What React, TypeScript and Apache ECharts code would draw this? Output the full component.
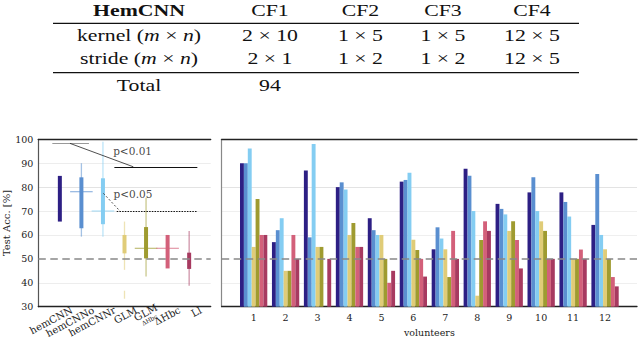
import React, { useEffect, useRef } from 'react';
import * as echarts from 'echarts';

// ---------- table ----------
const tableHeader = ['HemCNN', 'CF1', 'CF2', 'CF3', 'CF4'];
const tableKernel = ['kernel ({i|m} × {i|n})', '2 × 10', '1 × 5', '1 × 5', '12 × 5'];
const tableStride = ['stride ({i|m} × {i|n})', '2 × 1', '1 × 2', '1 × 2', '12 × 5'];
const tableTotal = ['Total', '94'];

// ---------- left chart: per method summaries ----------
const methods = ['hemCNN', 'hemCNNo', 'hemCNNr', 'GLM', 'GLM_sub', 'ΔHbc', 'LI'];
const glmSub = 'ΔHbc';
const whiskerLow = [65.6, 59.3, 59.3, 45.4, 42.6, 46, 38.8];
const whiskerHigh = [84.7, 90, 99, 65.6, 75.6, 60, 61.7];
const boxLow = [65.6, 62.8, 64.5, 52.3, 50.2, 46, 45.8];
const boxHigh = [84.7, 84.1, 83.7, 60, 63.3, 60, 52.6];
const crossValue: (number | null)[] = [null, 78.1, 70, null, 54.4, 54.4, null];
const outlierValue: (number | null)[] = [null, null, null, 35, null, null, null];

// significance annotations (x in method slots, y in %)
const sigLines = [
  { from: [0.65, 98.3], to: [2.35, 98.3], kind: 'gray' },
  { from: [1.47, 98.3], to: [4.41, 88.5], kind: 'thin' },
  { from: [3.53, 88.5], to: [7.38, 88.5], kind: 'solid' },
  { from: [3.02, 77.4], to: [3.79, 70.0], kind: 'dash' },
  { from: [3.64, 70.0], to: [7.35, 70.0], kind: 'dot' },
];
const sigLabels = [
  { text: 'p<0.01', at: [3.45, 95.3] },
  { text: 'p<0.05', at: [3.47, 77.1] },
];

// ---------- right chart: per volunteer accuracy ----------
const volunteers = ['1', '2', '3', '4', '5', '6', '7', '8', '9', '10', '11', '12'];
const accHemCNN = [90, 57, 87, 80, 67, 82.3, 54, 87.7, 73, 77.8, 77.8, 64.2];
const accHemCNNo = [90, 62, 59, 82, 62, 83, 63.2, 84.8, 70.9, 84.1, 73.8, 85.5];
const accHemCNNr = [96.2, 67, 98, 79, 60, 86, 58.5, 70, 68.6, 70, 67.7, 60];
const accGLM = [55, 45, 55, 60, 60, 58, 54, 34.6, 61.7, 65.7, 50, 54];
const accGLMsub = [75, 45, 55, 65, 50, 53.7, 42.4, 57.9, 65.7, 61.7, 50, 50];
const accDHbc = [60, 60, null, 55, 40, 50, 61.7, 65.7, 57.9, 50, 53.9, 42.4];
const accLI = [60, 50, 50, 55, 45, 42.6, 50, 61.7, 46, 50, 50, 38.5];

const chanceLevel = 50;
const yMin = 30;
const yMax = 100;
const yStep = 10;

const methodColors = ['#2d1f84', '#5a8fd0', '#84cdf2', '#e0cc78', '#9f9b30', '#d3607a', '#a73a60'];

const SERIF = 'DejaVu Serif';
const TIMES = 'Liberation Serif';

function fade(hex: string, a: number) {
  const n = parseInt(hex.slice(1), 16);
  return `rgba(${(n >> 16) & 255},${(n >> 8) & 255},${n & 255},${a})`;
}

export default function App() {
  const ref = useRef<HTMLDivElement>(null);
  useEffect(() => {
    if (!ref.current) return;
    const chart = echarts.init(ref.current, undefined, { renderer: 'svg' });

    // table graphics
    const colX = [139, 270, 360.5, 443, 532];
    const rowY = [10, 35, 58.5, 85];
    const rows = [tableHeader, tableKernel, tableStride, tableTotal];
    const tableEls: any[] = [];
    rows.forEach((row, r) => {
      row.forEach((t, c) => {
        const bold = r === 0 && c === 0;
        const style: any = {
          text: t,
          align: 'center',
          verticalAlign: 'middle',
          fontFamily: TIMES,
          fontSize: 16.5,
          fontWeight: bold ? 'bold' : 'normal',
          fill: '#111',
        };
        if (t.indexOf('{i|') >= 0) {
          style.rich = { i: { fontStyle: 'italic', fontFamily: TIMES, fontSize: 16.5, fill: '#111' } };
        }
        tableEls.push({ type: 'text', x: colX[c], y: rowY[r], scaleX: 1.32, style });
      });
    });
    [23.3, 72.7].forEach((y) =>
      tableEls.push({
        type: 'line',
        shape: { x1: 53, y1: y, x2: 579, y2: y },
        style: { stroke: '#111', lineWidth: 1.2 },
      })
    );

    const sigStyle = (kind: string) => {
      if (kind === 'gray') return { color: '#999', width: 1.2, type: 'solid' };
      if (kind === 'thin') return { color: '#222', width: 0.8, type: 'solid' };
      if (kind === 'solid') return { color: '#111', width: 1.1, type: 'solid' };
      if (kind === 'dash') return { color: '#222', width: 0.8, type: [2, 2] };
      return { color: '#111', width: 1, type: [1.5, 1.2] };
    };

    const leftSplit = ['rgba(0,0,0,0)', '#ededed', 'rgba(0,0,0,0)', '#ededed', '#ededed', '#e3e3e3', '#ededed', 'rgba(0,0,0,0)'];
    const rightSplit = ['rgba(0,0,0,0)', '#efefef', 'rgba(0,0,0,0)', '#efefef', '#efefef', '#e3e3e3', 'rgba(0,0,0,0)', 'rgba(0,0,0,0)'];

    const barSeries = [accHemCNN, accHemCNNo, accHemCNNr, accGLM, accGLMsub, accDHbc, accLI].map((arr, k) => ({
      type: 'bar',
      xAxisIndex: 2,
      yAxisIndex: 2,
      barWidth: 3.9,
      barGap: '0%',
      itemStyle: { color: methodColors[k] },
      data: [null, ...arr, null],
      z: 2,
    }));

    const option: any = {
      animation: false,
      textStyle: { fontFamily: SERIF },
      graphic: tableEls,
      grid: [
        { left: 38.3, right: 429.3, top: 139.3, bottom: 33.3 },
        { left: 221.7, right: 0, top: 139.3, bottom: 33.3 },
        { left: 50.3, right: 417.3, top: 139.3, bottom: 33.3 },
      ],
      xAxis: [
        {
          gridIndex: 0, type: 'value', min: 0, max: 8, interval: 1, position: 'bottom',
          axisLine: { show: true, lineStyle: { color: '#222', width: 1.3 } },
          axisTick: { show: false }, axisLabel: { show: false }, splitLine: { show: false },
        },
        {
          gridIndex: 0, type: 'value', min: 0, max: 8, interval: 1, position: 'top',
          axisLine: { show: true, onZero: false, lineStyle: { color: '#222', width: 1.3 } },
          axisTick: { show: false }, axisLabel: { show: false }, splitLine: { show: false },
        },
        {
          gridIndex: 1, type: 'category', boundaryGap: false, position: 'bottom',
          data: ['', ...volunteers, ''],
          axisLine: { show: true, lineStyle: { color: '#222', width: 1.3 } },
          axisTick: { show: false },
          axisLabel: { show: true, color: '#222', fontSize: 9.5, fontFamily: SERIF, margin: 6 },
          splitLine: { show: false },
          name: 'volunteers', nameLocation: 'middle', nameGap: 21,
          nameTextStyle: { color: '#222', fontSize: 9.5, fontFamily: SERIF },
        },
        {
          gridIndex: 1, type: 'category', boundaryGap: false, position: 'top',
          data: ['', ...volunteers, ''],
          axisLine: { show: true, onZero: false, lineStyle: { color: '#222', width: 1.3 } },
          axisTick: { show: false }, axisLabel: { show: false }, splitLine: { show: false },
        },
        {
          gridIndex: 2, type: 'value', min: 0, max: 8, interval: 1, position: 'bottom',
          axisLine: { show: false }, axisTick: { show: false }, splitLine: { show: false },
          axisLabel: {
            show: true, rotate: 28, margin: 5, color: '#222', fontSize: 10, fontFamily: SERIF,
            formatter: (v: number) => {
              const i = Math.round(v) - 1;
              if (i < 0 || i >= methods.length) return '';
              if (methods[i] === 'GLM_sub') return 'GLM\n{s|' + glmSub + '}';
              return methods[i];
            },
            rich: { s: { fontSize: 6, fontFamily: SERIF, color: '#222', align: 'center' } },
          },
        },
      ],
      yAxis: [
        {
          gridIndex: 0, type: 'value', min: yMin, max: yMax, interval: yStep,
          axisLine: { show: false }, axisTick: { show: false },
          axisLabel: { color: '#222', fontSize: 9.5, fontFamily: SERIF, margin: 5 },
          splitLine: { show: true, lineStyle: { color: leftSplit, width: 1.2 } },
          name: 'Test Acc. [%]', nameLocation: 'middle', nameGap: 26,
          nameTextStyle: { color: '#222', fontSize: 10, fontFamily: SERIF },
        },
        {
          gridIndex: 0, type: 'value', min: yMin, max: yMax, interval: yStep, position: 'right',
          axisLine: { show: true, lineStyle: { color: '#555', width: 1.2 } },
          axisTick: { show: false }, axisLabel: { show: false }, splitLine: { show: false },
        },
        {
          gridIndex: 1, type: 'value', min: yMin, max: yMax, interval: yStep, position: 'left',
          axisLine: { show: true, lineStyle: { color: '#888', width: 1.2 } },
          axisTick: { show: false }, axisLabel: { show: false },
          splitLine: { show: true, lineStyle: { color: rightSplit, width: 1.2 } },
        },
        { gridIndex: 2, type: 'value', min: yMin, max: yMax, show: false },
      ],
      series: [
        {
          type: 'custom',
          xAxisIndex: 0,
          yAxisIndex: 0,
          z: 3,
          data: methods.map((_, i) => [i + 1, boxLow[i], boxHigh[i]]),
          renderItem: (params: any, api: any) => {
            const i = params.dataIndex;
            const c = methodColors[i];
            const px = api.coord([i + 1, boxLow[i]])[0];
            const py = (v: number) => api.coord([i + 1, v])[1];
            const children: any[] = [];
            if (whiskerHigh[i] > boxHigh[i] || whiskerLow[i] < boxLow[i]) {
              children.push({
                type: 'line',
                shape: { x1: px, y1: py(whiskerLow[i]), x2: px, y2: py(whiskerHigh[i]) },
                style: { stroke: fade(c, 0.55), lineWidth: 1.3 },
              });
            }
            const o = outlierValue[i];
            if (o != null) {
              children.push({
                type: 'line',
                shape: { x1: px, y1: py(o) - 4, x2: px, y2: py(o) + 4 },
                style: { stroke: fade(c, 0.55), lineWidth: 1.3 },
              });
            }
            children.push({
              type: 'rect',
              shape: { x: px - 2, y: py(boxHigh[i]), width: 4, height: py(boxLow[i]) - py(boxHigh[i]) },
              style: { fill: c },
            });
            const cv = crossValue[i];
            if (cv != null) {
              children.push({
                type: 'line',
                shape: { x1: px - 11.3, y1: py(cv), x2: px + 11.3, y2: py(cv) },
                style: { stroke: fade(c, 0.6), lineWidth: 1.3 },
              });
            }
            return { type: 'group', children };
          },
        },
        {
          type: 'line',
          xAxisIndex: 0,
          yAxisIndex: 0,
          data: [],
          z: 5,
          markLine: {
            silent: true,
            symbol: ['none', 'none'],
            label: { show: false },
            data: [
              [
                { coord: [0, chanceLevel], lineStyle: { color: '#888', width: 1.5, type: [7.5, 4.5] } },
                { coord: [8, chanceLevel] },
              ],
              ...sigLines.map((l) => [
                { coord: l.from, lineStyle: sigStyle(l.kind) },
                { coord: l.to },
              ]),
            ],
          },
        },
        {
          type: 'scatter',
          xAxisIndex: 0,
          yAxisIndex: 0,
          symbolSize: 1,
          itemStyle: { color: 'rgba(0,0,0,0)' },
          z: 6,
          data: sigLabels.map((s) => ({
            value: s.at,
            label: {
              show: true, position: 'right', distance: 0, formatter: s.text,
              color: '#111', fontSize: 10.5, fontFamily: SERIF,
            },
          })),
        },
        ...barSeries,
        {
          type: 'line',
          xAxisIndex: 2,
          yAxisIndex: 2,
          data: [],
          z: 5,
          markLine: {
            silent: true,
            symbol: ['none', 'none'],
            label: { show: false },
            lineStyle: { color: '#888', width: 1.5, type: [7.5, 4.5] },
            data: [{ yAxis: chanceLevel }],
          },
        },
      ],
    };
    chart.setOption(option);
    return () => chart.dispose();
  }, []);
  return (
    <div
      ref={ref}
      style={{ position: 'absolute', left: 0, top: 0, width: 640, height: 340, background: '#fff' }}
    />
  );
}
